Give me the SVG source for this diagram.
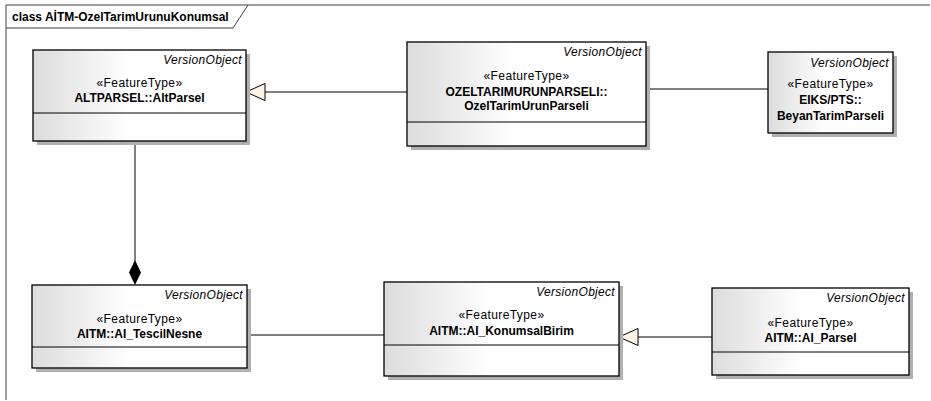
<svg xmlns="http://www.w3.org/2000/svg" width="931" height="401" viewBox="0 0 931 401">
<defs>
<linearGradient id="g" x1="0" y1="0" x2="1" y2="0">
<stop offset="0" stop-color="#dcdcdc"/>
<stop offset="0.45" stop-color="#ffffff"/>
<stop offset="1" stop-color="#ffffff"/>
</linearGradient>
<style>
.box{fill:url(#g);stroke:#000;stroke-width:1.3}
.sh{fill:#b0b0b0}
.div{stroke:#000;stroke-width:1}
text{font-family:"Liberation Sans",Arial,sans-serif;font-size:12px;fill:#000}
.vo{font-style:italic;text-anchor:end;letter-spacing:0.3px}
.st{text-anchor:middle;letter-spacing:0.4px}
.nm{text-anchor:middle;font-weight:bold}
.ln{stroke:#000;stroke-width:1;fill:none}
</style>
</defs>
<rect width="931" height="401" fill="#fff"/>
<g id="frame">
<path d="M6,400 V5 H930" fill="none" stroke="#404040" stroke-width="1"/>
<path d="M6,28 H233 L248,5" fill="none" stroke="#404040" stroke-width="1"/>
<text x="12" y="21" font-weight="bold">class AİTM-OzelTarimUrunuKonumsal</text>
</g>
<g id="connectors">
<path class="ln" d="M407,92 H265"/>
<path d="M246,92 L265,83.5 L265,100.5 Z" fill="#fdf3e4" stroke="#000" stroke-width="1"/>
<path class="ln" d="M646,89 H768"/>
<path class="ln" d="M135,142 V261"/>
<path d="M135,260 L141,272.5 L135,285 L129,272.5 Z" fill="#000"/>
<path class="ln" d="M247,335 H384"/>
<path class="ln" d="M638,337 H712"/>
<path d="M619,337 L638,328.5 L638,345.5 Z" fill="#fdf3e4" stroke="#000" stroke-width="1"/>
</g>
<g id="AltParsel">
<rect class="sh" x="37" y="54" width="213" height="91"/>
<rect class="box" x="33" y="50" width="213" height="91"/>
<line class="div" x1="33" y1="113" x2="246" y2="113"/>
<text class="vo" x="242" y="64">VersionObject</text>
<text class="st" x="139.5" y="87">«FeatureType»</text>
<text class="nm" x="139.5" y="102">ALTPARSEL::AltParsel</text>
</g>
<g id="OzelTarimUrunParseli">
<rect class="sh" x="411" y="46" width="239" height="104"/>
<rect class="box" x="407" y="42" width="239" height="104"/>
<line class="div" x1="407" y1="122" x2="646" y2="122"/>
<text class="vo" x="642" y="56">VersionObject</text>
<text class="st" x="526.5" y="80">«FeatureType»</text>
<text class="nm" x="526.5" y="96">OZELTARIMURUNPARSELI::</text>
<text class="nm" x="526.5" y="110">OzelTarimUrunParseli</text>
</g>
<g id="BeyanTarimParseli">
<rect class="sh" x="772" y="56" width="125" height="81"/>
<rect class="box" x="768" y="52" width="125" height="81"/>
<text class="vo" x="889" y="67">VersionObject</text>
<text class="st" x="830.5" y="88">«FeatureType»</text>
<text class="nm" x="830.5" y="104">EIKS/PTS::</text>
<text class="nm" x="830.5" y="120">BeyanTarimParseli</text>
</g>
<g id="AI_TescilNesne">
<rect class="sh" x="36" y="289" width="215" height="83"/>
<rect class="box" x="32" y="285" width="215" height="83"/>
<line class="div" x1="32" y1="347" x2="247" y2="347"/>
<text class="vo" x="243" y="299">VersionObject</text>
<text class="st" x="139.5" y="323">«FeatureType»</text>
<text class="nm" x="139.5" y="338">AITM::AI_TescilNesne</text>
</g>
<g id="AI_KonumsalBirim">
<rect class="sh" x="388" y="286" width="235" height="94"/>
<rect class="box" x="384" y="282" width="235" height="94"/>
<line class="div" x1="384" y1="345" x2="619" y2="345"/>
<text class="vo" x="615" y="296">VersionObject</text>
<text class="st" x="501.5" y="319">«FeatureType»</text>
<text class="nm" x="501.5" y="335">AITM::AI_KonumsalBirim</text>
</g>
<g id="AI_Parsel">
<rect class="sh" x="716" y="292" width="197" height="87"/>
<rect class="box" x="712" y="288" width="197" height="87"/>
<line class="div" x1="712" y1="352" x2="909" y2="352"/>
<text class="vo" x="905" y="302">VersionObject</text>
<text class="st" x="810.5" y="327">«FeatureType»</text>
<text class="nm" x="810.5" y="342">AITM::AI_Parsel</text>
</g>
</svg>
